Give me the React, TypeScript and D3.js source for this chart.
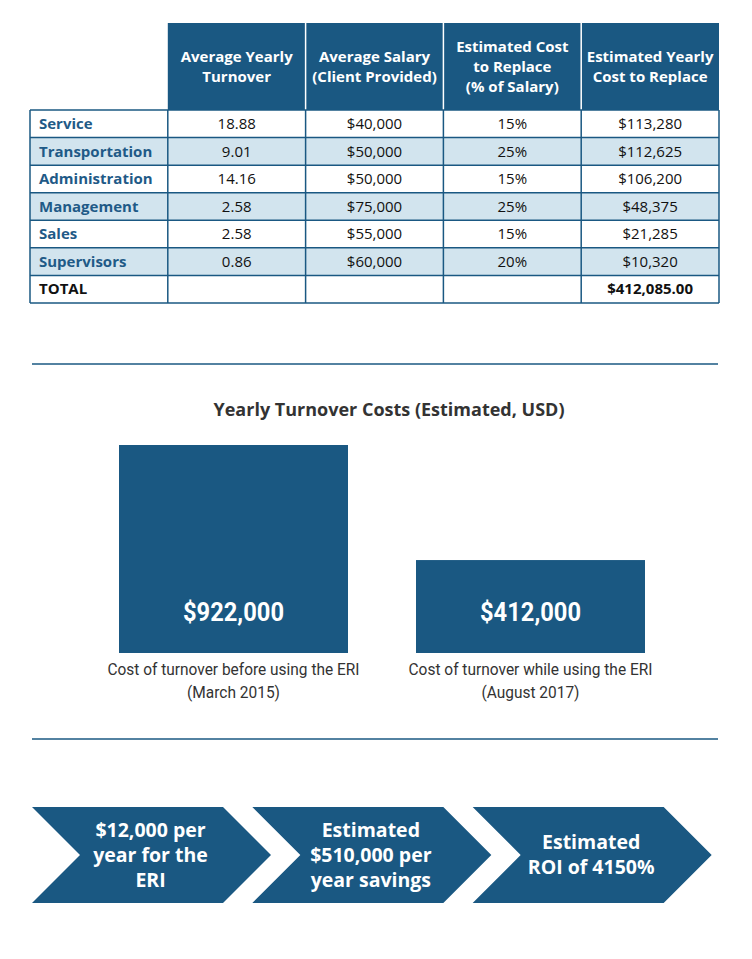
import React from "react";
import * as d3 from "d3";

const categories = ["Service", "Transportation", "Administration", "Management", "Sales", "Supervisors"];
const turnover = ["18.88", "9.01", "14.16", "2.58", "2.58", "0.86"];
const salary = [40000, 50000, 50000, 75000, 55000, 60000];
const costPct = [15, 25, 15, 25, 15, 20];
const yearlyCost = [113280, 112625, 106200, 48375, 21285, 10320];
const totalLabel = "$412,085.00";
const headers = [
  ["Average Yearly", "Turnover"],
  ["Average Salary", "(Client Provided)"],
  ["Estimated Cost", "to Replace", "(% of Salary)"],
  ["Estimated Yearly", "Cost to Replace"],
];

const chartTitle = "Yearly Turnover Costs (Estimated, USD)";
const barKeys = ["before", "while"];
const barValues = [922000, 412000];
const barCaptions = [
  ["Cost of turnover before using the ERI", "(March 2015)"],
  ["Cost of turnover while using the ERI", "(August 2017)"],
];
// condensed text widths (style)
const captionWidths = [
  [252, 93],
  [244, 98],
];

const chevronTexts = [
  ["$12,000 per", "year for the", "ERI"],
  ["Estimated", "$510,000 per", "year savings"],
  ["Estimated", "ROI of 4150%"],
];

const BLUE = "#1a5882";
const LIGHT = "#d2e4ee";
const LABEL = "#1f5a87";
const SANS = "'Open Sans', 'Noto Sans', sans-serif";
const NARROW = "Roboto, 'Open Sans', sans-serif";

export default function App() {
  const W = 752, H = 959;
  const fmt = d3.format("$,");

  const colKeys = ["label", "turn", "sal", "pct", "cost"];
  const xCol = d3.scaleBand<string>().domain(colKeys).range([30, 719]);
  const rowKeys = [...categories, "TOTAL"];
  const yRow = d3.scaleBand<string>().domain(rowKeys).range([110, 303]);
  const headerTop = 23;

  const rowVals = categories.map((c, i) => [
    turnover[i],
    fmt(salary[i]),
    `${costPct[i]}%`,
    fmt(yearlyCost[i]),
  ]);

  const xBar = d3.scaleBand<string>().domain(barKeys).range([119, 645]).paddingInner(0.229);
  const yBar = d3.scaleLinear().domain([0, 922000]).range([653, 445]);

  const xChev = d3.scaleBand<string>().domain(["a", "b", "c"]).range([32, 693]);
  const chevTop = 807, chevBot = 903, depth = 48, chevW = 191;

  const bodyTop = yRow.range()[0];
  const bodyBot = yRow.range()[1];

  return (
    <div style={{ position: "absolute", left: 0, top: 0 }}>
      <svg width={W} height={H} style={{ display: "block", background: "#fff" }}>
        {colKeys.slice(1).map((k, i) => (
          <g key={k}>
            <rect x={xCol(k)!} y={headerTop} width={xCol.bandwidth()} height={bodyTop - headerTop} fill={BLUE} />
            {headers[i].map((line, j) => {
              const n = headers[i].length;
              const cy = (headerTop + bodyTop) / 2 + (j - (n - 1) / 2) * 20;
              return (
                <text key={j} x={xCol(k)! + xCol.bandwidth() / 2} y={cy} dy="0.35em" textAnchor="middle"
                  fill="#fff" fontFamily={SANS} fontWeight={700} fontSize={15}>{line}</text>
              );
            })}
          </g>
        ))}
        {colKeys.slice(2).map((k) => (
          <line key={k} x1={xCol(k)!} x2={xCol(k)!} y1={headerTop} y2={bodyTop} stroke="#fff" strokeWidth={1.5} />
        ))}
        {rowKeys.map((r, i) => (
          <rect key={r} x={30} y={yRow(r)!} width={689} height={yRow.bandwidth()} fill={i % 2 === 1 && i < 6 ? LIGHT : "#fff"} />
        ))}
        {categories.map((c, i) => (
          <g key={c}>
            <text x={39} y={yRow(c)! + yRow.bandwidth() / 2} dy="0.35em" fill={LABEL} fontFamily={SANS}
              fontWeight={700} fontSize={15}>{c}</text>
            {rowVals[i].map((v, j) => (
              <text key={j} x={xCol(colKeys[j + 1])! + xCol.bandwidth() / 2} y={yRow(c)! + yRow.bandwidth() / 2}
                dy="0.35em" textAnchor="middle" fill="#111" fontFamily={SANS} fontSize={15}>{v}</text>
            ))}
          </g>
        ))}
        <text x={39} y={yRow("TOTAL")! + yRow.bandwidth() / 2} dy="0.35em" fill="#111" fontFamily={SANS}
          fontWeight={700} fontSize={15}>TOTAL</text>
        <text x={xCol("cost")! + xCol.bandwidth() / 2} y={yRow("TOTAL")! + yRow.bandwidth() / 2} dy="0.35em"
          textAnchor="middle" fill="#111" fontFamily={SANS} fontWeight={700} fontSize={15}>{totalLabel}</text>
        {[...rowKeys.map((r) => yRow(r)!), bodyBot].map((y, i) => (
          <line key={`h${i}`} x1={30} x2={719} y1={y} y2={y} stroke={BLUE} strokeWidth={1.5} />
        ))}
        {[...colKeys.map((k) => xCol(k)!), 719].map((x, i) => (
          <line key={`v${i}`} x1={x} x2={x} y1={bodyTop} y2={bodyBot} stroke={BLUE} strokeWidth={1.5} />
        ))}

        <line x1={32} x2={718} y1={364} y2={364} stroke={BLUE} strokeWidth={1.5} />

        <text x={389} y={410} dy="0.35em" textAnchor="middle" fill="#333" fontFamily={SANS} fontWeight={700}
          fontSize={17} textLength={351} lengthAdjust="spacingAndGlyphs">{chartTitle}</text>
        {barKeys.map((k, i) => (
          <g key={k}>
            <rect x={xBar(k)!} y={yBar(barValues[i])} width={xBar.bandwidth()} height={yBar(0) - yBar(barValues[i])} fill={BLUE} />
            <text x={xBar(k)! + xBar.bandwidth() / 2} y={612} dy="0.35em" textAnchor="middle" fill="#fff"
              fontFamily={NARROW} fontWeight={700} fontSize={26} textLength={101}
              lengthAdjust="spacingAndGlyphs">{d3.format("$,")(barValues[i])}</text>
            {barCaptions[i].map((line, j) => (
              <text key={j} x={xBar(k)! + xBar.bandwidth() / 2} y={669 + j * 23} dy="0.35em" textAnchor="middle"
                fill="#333" fontFamily={NARROW} fontSize={16.5} textLength={captionWidths[i][j]}
                lengthAdjust="spacingAndGlyphs">{line}</text>
            ))}
          </g>
        ))}

        <line x1={32} x2={718} y1={739} y2={739} stroke={BLUE} strokeWidth={1.5} />

        {chevronTexts.map((lines, i) => {
          const x0 = xChev(["a", "b", "c"][i])!;
          const mid = (chevTop + chevBot) / 2;
          const p = d3.path();
          p.moveTo(x0, chevTop);
          p.lineTo(x0 + chevW, chevTop);
          p.lineTo(x0 + chevW + depth, mid);
          p.lineTo(x0 + chevW, chevBot);
          p.lineTo(x0, chevBot);
          p.lineTo(x0 + depth, mid);
          p.closePath();
          const cx = x0 + depth / 2 + chevW / 2 - 1;
          return (
            <g key={i}>
              <path d={p.toString()} fill={BLUE} />
              {lines.map((line, j) => (
                <text key={j} x={cx} y={mid + (j - (lines.length - 1) / 2) * 25} dy="0.35em" textAnchor="middle"
                  fill="#fff" fontFamily={SANS} fontWeight={700} fontSize={19.5}>{line}</text>
              ))}
            </g>
          );
        })}
      </svg>
    </div>
  );
}
